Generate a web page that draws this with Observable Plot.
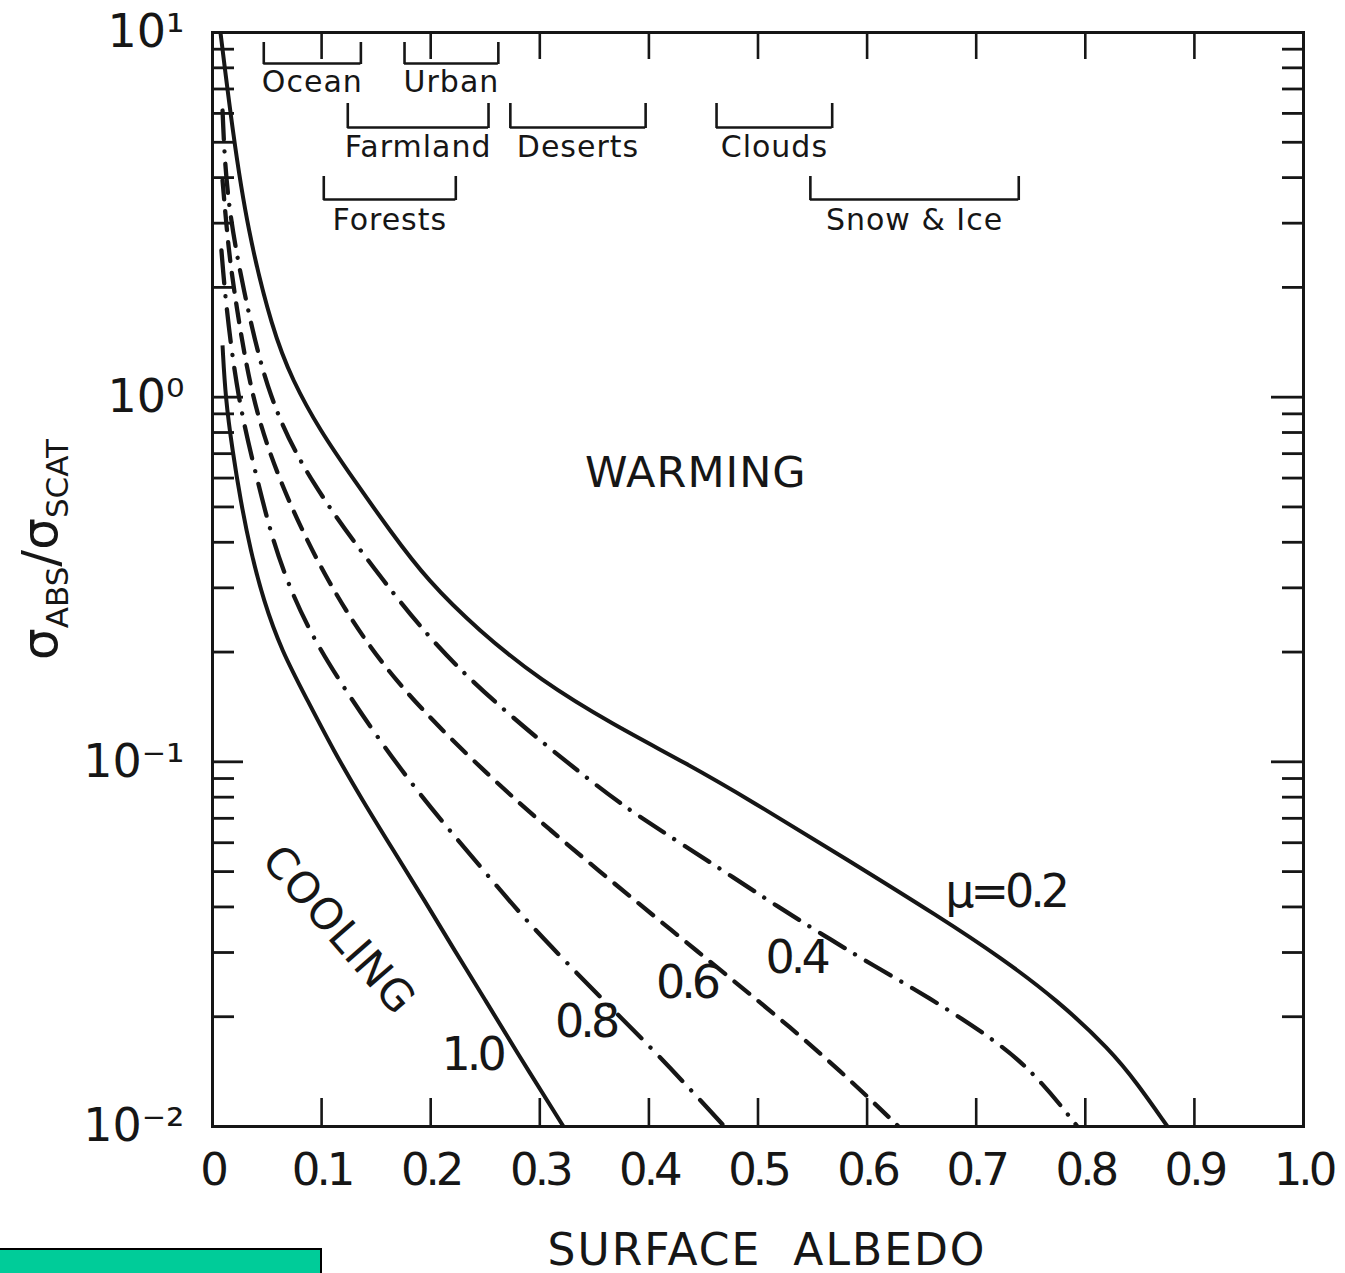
<!DOCTYPE html>
<html>
<head>
<meta charset="utf-8">
<script src="https://cdn.jsdelivr.net/npm/d3@7"></script>
<script src="https://cdn.jsdelivr.net/npm/@observablehq/plot@0.6"></script>
<style>
  html, body { margin: 0; padding: 0; background: #fff; }
  #wrap { position: relative; width: 1345px; height: 1273px; overflow: hidden; }
  #stamp { position: absolute; left: 0; top: 1248px; width: 320px; height: 25px;
           background: #00cc99; border-top: 2px solid #000; border-right: 2px solid #000; }
</style>
</head>
<body>
<div id="wrap"><div id="chart"></div><div id="stamp"></div></div>
<script>
// ---------- data ----------
// curves: [surface albedo, sigma_abs / sigma_scat]
const mu02 = [[0.0073,10],[0.0183,5.39],[0.0321,2.865],[0.0550,1.523],[0.0733,1.111],[0.0985,0.810],[0.1300,0.591],[0.1625,0.431],[0.1970,0.3144],[0.2438,0.2293],[0.3006,0.1672],[0.3666,0.1267],[0.4345,0.0990],[0.4931,0.0784],[0.5802,0.0543],[0.6673,0.0374],[0.7223,0.0291],[0.7745,0.0222],[0.8231,0.0162],[0.8478,0.0131],[0.8753,0.0100]];
const mu04 = [[0.0092,6.11],[0.0128,3.46],[0.0302,1.84],[0.0513,0.992],[0.0880,0.591],[0.1558,0.3144],[0.2246,0.1747],[0.3529,0.0851],[0.3923,0.0704],[0.4335,0.0586],[0.4775,0.0482],[0.5179,0.0401],[0.5619,0.0332],[0.6059,0.0276],[0.6535,0.0229],[0.7250,0.0167],[0.7608,0.0132],[0.7928,0.0100]];
const mu06 = [[0.0092,3.93],[0.0147,2.525],[0.0211,1.84],[0.0357,0.992],[0.0605,0.591],[0.1036,0.3144],[0.1632,0.1672],[0.2576,0.0889],[0.3098,0.0648],[0.3648,0.0473],[0.4198,0.0347],[0.4748,0.0255],[0.5298,0.0187],[0.5802,0.0138],[0.6288,0.0100]];
const mu08 = [[0.0082,2.525],[0.0119,1.84],[0.0229,0.992],[0.0412,0.591],[0.0532,0.4256],[0.0678,0.3144],[0.0898,0.2249],[0.1173,0.1651],[0.1467,0.1220],[0.1815,0.0878],[0.2136,0.0669],[0.2484,0.0504],[0.2851,0.0374],[0.3208,0.0289],[0.3602,0.0219],[0.4015,0.0165],[0.4363,0.0128],[0.4693,0.0100]];
const mu10 = [[0.0092,1.386],[0.0119,0.992],[0.0183,0.714],[0.0257,0.521],[0.0348,0.380],[0.0467,0.277],[0.0632,0.202],[0.0871,0.1474],[0.1109,0.1074],[0.1375,0.0784],[0.1659,0.0571],[0.1943,0.0417],[0.2218,0.0304],[0.2502,0.0222],[0.2777,0.0162],[0.3217,0.0100]];

const curveNames  = ["μ=0.2", "0.4", "0.6", "0.8", "1.0"];
const labelAlbedo = [0.727, 0.535, 0.4345, 0.342, 0.238];
const labelRatio  = [0.0438, 0.0289, 0.0247, 0.0193, 0.0157];

// surface albedo ranges
const surfaceTypes = ["Ocean", "Urban", "Farmland", "Deserts", "Clouds", "Forests", "Snow & Ice"];
const albedoLo     = [0.047, 0.176, 0.124, 0.273, 0.462, 0.102, 0.548];
const albedoHi     = [0.136, 0.262, 0.253, 0.397, 0.568, 0.223, 0.739];
const bracketRow   = [0, 0, 1, 1, 1, 2, 2];

const regionNames  = ["WARMING", "COOLING"];
const regionAlbedo = [0.443, 0.1155];
const regionRatio  = [0.62, 0.0345];

const xTickValues = [0, 0.1, 0.2, 0.3, 0.4, 0.5, 0.6, 0.7, 0.8, 0.9, 1.0];
const xTickLabels = ["0", "0.1", "0.2", "0.3", "0.4", "0.5", "0.6", "0.7", "0.8", "0.9", "1.0"];
const yTickValues = [0.01, 0.1, 1, 10];
const yTickLabels = ["10⁻²", "10⁻¹", "10⁰", "10¹"];

const xTitle = "SURFACE\u00a0 ALBEDO";
const yTitle = "σABS/σSCAT";

// ---------- layout ----------
const W = 1345, H = 1273, mT = 32, mB = 147, mL = 212, mR = 42;
const innerW = W - mL - mR, innerH = H - mT - mB;
const ink = "#161616";
const font = "DejaVu Sans";

const styles = [
  {pts: mu02, dash: null, sw: 4},
  {pts: mu04, dash: "29,12,0.1,12.5", sw: 4.3},
  {pts: mu06, dash: "19,12", sw: 4.3},
  {pts: mu08, dash: "33,13,0.1,13", sw: 4.3},
  {pts: mu10, dash: null, sw: 4}
];

const brackets = surfaceTypes.map((name, i) => ({name, lo: albedoLo[i], hi: albedoHi[i], row: bracketRow[i]}));
const rowTop = [10, 71, 144], rowBottom = [31, 95, 167], rowLabel = [50, 115, 188];

const xInner = xTickValues.slice(1, -1);
const yMajorInner = [0.1, 1];
const yMinor = [];
for (const dec of [0.01, 0.1, 1]) for (let k = 2; k <= 9; k++) yMinor.push(+(k * dec).toPrecision(3));

const marks = [];
// ticks (inward, all four sides)
marks.push(Plot.ruleX(xInner, {stroke: ink, strokeWidth: 2.6, insetTop: innerH - 28}));
marks.push(Plot.ruleX(xInner, {stroke: ink, strokeWidth: 2.6, insetBottom: innerH - 27}));
marks.push(Plot.ruleY(yMajorInner, {stroke: ink, strokeWidth: 2.8, insetRight: innerW - 31}));
marks.push(Plot.ruleY(yMinor, {stroke: ink, strokeWidth: 2.8, insetRight: innerW - 22}));
marks.push(Plot.ruleY(yMajorInner, {stroke: ink, strokeWidth: 2.8, insetLeft: innerW - 32}));
marks.push(Plot.ruleY(yMinor, {stroke: ink, strokeWidth: 2.8, insetLeft: innerW - 21}));
marks.push(Plot.frame({stroke: ink, strokeWidth: 3}));

// axes labels
marks.push(Plot.axisX(xTickValues, {tickSize: 0, tickPadding: 27, fontSize: 45, fill: ink,
  tickFormat: d => xTickLabels[xTickValues.indexOf(d)], label: null}));
marks.push(Plot.axisY(yTickValues, {tickSize: 0, tickPadding: 28, fontSize: 46, fill: ink,
  tickFormat: d => yTickLabels[yTickValues.indexOf(d)], label: null}));

// curves
styles.forEach(s => {
  marks.push(Plot.line(s.pts, {x: d => d[0], y: d => d[1], curve: "basis", clip: true,
    stroke: ink, strokeWidth: s.sw, strokeDasharray: s.dash, strokeLinecap: s.dash ? "round" : "butt"}));
});

// curve labels
marks.push(Plot.text(curveNames, {x: (d, i) => labelAlbedo[i], y: (d, i) => labelRatio[i], text: d => d,
  fontSize: 46, fill: ink}));

// region labels
marks.push(Plot.text(regionNames, {x: (d, i) => regionAlbedo[i], y: (d, i) => regionRatio[i], text: d => d,
  fontSize: 43, fill: ink, rotate: (d, i) => i === 1 ? 49 : 0}));

// surface-type brackets
for (let r = 0; r < 3; r++) {
  const items = brackets.filter(b => b.row === r);
  const ends = items.flatMap(b => [b.lo, b.hi]);
  marks.push(Plot.ruleY(items, {y: () => 10, x1: "lo", x2: "hi", dy: rowBottom[r], stroke: ink, strokeWidth: 2.6}));
  marks.push(Plot.ruleX(ends, {stroke: ink, strokeWidth: 2.6, insetTop: rowTop[r], insetBottom: innerH - rowBottom[r] - 1}));
  marks.push(Plot.text(items, {x: d => (d.lo + d.hi) / 2, y: () => 10, dy: rowLabel[r], text: "name",
    fontSize: 30, fill: ink}));
}

// axis titles
marks.push(Plot.text([xTitle], {frameAnchor: "bottom", dx: 9, dy: 138, text: d => d, fontSize: 44, fill: ink}));
marks.push(Plot.text([yTitle], {frameAnchor: "left", textAnchor: "middle", dx: -172, dy: -30, rotate: -90,
  text: d => d, fontSize: 50, fill: ink}));

const svg = Plot.plot({
  width: W, height: H,
  marginTop: mT, marginBottom: mB, marginLeft: mL, marginRight: mR,
  x: {domain: [0, 1]},
  y: {type: "log", domain: [0.01, 10]},
  style: {fontFamily: font, background: "#fff", color: ink, overflow: "visible"},
  marks
});

// typographic touches
const sel = d3.select(svg);
sel.selectAll("text").filter(function () { return /^[0-9μ.=]+$/.test(this.textContent); })
  .style("letter-spacing", "-4px");
sel.selectAll("text").filter(function () { return this.textContent === xTitle; })
  .style("letter-spacing", "2px");
sel.selectAll("text").filter(function () { return /^[A-Za-z &]+$/.test(this.textContent); })
  .style("letter-spacing", "1px");
sel.selectAll("text").filter(function () { return this.textContent === yTitle; }).each(function () {
  const t = d3.select(this);
  t.text(null);
  [["σ", 0, 50], ["ABS", 11, 31], ["/σ", -11, 50], ["SCAT", 11, 31]].forEach(([s, dy, fs]) =>
    t.append("tspan").attr("dy", dy).attr("font-size", fs).text(s));
});

document.getElementById("chart").appendChild(svg);
</script>
</body>
</html>
